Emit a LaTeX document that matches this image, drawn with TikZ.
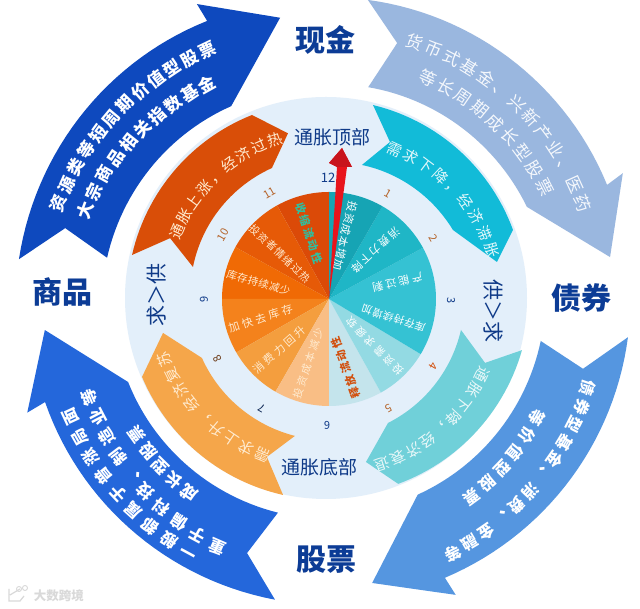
\documentclass[tikz,border=0pt]{standalone}
\usepackage{fontspec}
\newfontfamily\cjk{Noto Sans CJK SC}
\newcount\glyphcnt
\definecolor{navy}{HTML}{0C3C96}
\definecolor{navyb}{HTML}{0F3A88}
\definecolor{discc}{HTML}{E3EFFA}
\definecolor{aone}{HTML}{0E49BE}
\definecolor{atwo}{HTML}{9AB7DF}
\definecolor{athree}{HTML}{5596E0}
\definecolor{afour}{HTML}{2467DB}
\definecolor{bone}{HTML}{D94E08}
\definecolor{btwo}{HTML}{12BBD8}
\definecolor{bthree}{HTML}{70D0D9}
\definecolor{bfour}{HTML}{F5A64A}
\definecolor{handred}{HTML}{E8141C}
\definecolor{handdark}{HTML}{C8141C}
\definecolor{clockb}{HTML}{B5642A}
\definecolor{creamt}{HTML}{FFEBD0}
\definecolor{pa}{HTML}{DB4A08}
\definecolor{pb}{HTML}{E65A07}
\definecolor{pc}{HTML}{F06A05}
\definecolor{pd}{HTML}{F4821C}
\definecolor{pe}{HTML}{F49E3E}
\definecolor{pf}{HTML}{F9BE85}
\definecolor{pg}{HTML}{C4E4EC}
\definecolor{ph}{HTML}{93DAE3}
\definecolor{pi}{HTML}{35C2D3}
\definecolor{pj}{HTML}{1FB6C6}
\definecolor{pk}{HTML}{16A4B4}
\definecolor{shrink}{HTML}{2FBFA0}
\definecolor{release}{HTML}{D2500E}
\tikzset{
  biglabel/.style={font=\cjk\bfseries\fontsize{30}{30}\selectfont,text=navy,inner sep=0pt},
  midlabel/.style={font=\cjk\fontsize{19}{19}\selectfont,text=navyb,inner sep=0pt},
  sidelabel/.style={font=\cjk\fontsize{21}{21}\selectfont,text=navyb,inner sep=0pt},
  clocknum/.style={font=\cjk\fontsize{11}{11}\selectfont,inner sep=0pt},
}
\def\wt{\bfseries}
% arrow band: colour, outer arc a1 r1 a2 r2, inner arc a3 r3 a4 r4, then {head path}{notch}
\newcommand{\band}[9]{\def\bA{#1}\def\bB{#2}\def\bC{#3}\def\bD{#4}\def\bE{#5}\def\bG{#6}\def\bH{#7}\def\bI{#8}\def\bJ{#9}\banddraw}
\newcommand{\banddraw}[2]{%
  \fill[\bA] (\bB:\bC) -- plot[domain=0:1,samples=30,variable=\vv]
    ({(\bC+(\bE-\bC)*\vv)*cos(\bB+(\bD-\bB)*\vv)},{(\bC+(\bE-\bC)*\vv)*sin(\bB+(\bD-\bB)*\vv)})
    -- #1 -- plot[domain=0:1,samples=30,variable=\vv]
    ({(\bH+(\bJ-\bH)*\vv)*cos(\bG+(\bI-\bG)*\vv)},{(\bH+(\bJ-\bH)*\vv)*sin(\bG+(\bI-\bG)*\vv)})
    -- #2 -- cycle;}
% text along an arc: a1 a2 r1 r2 n size colour chars
\newcommand{\arctxt}[8]{%
  \pgfmathsetmacro\hh{#6*0.88}\pgfmathsetmacro\dd{#6*0.12}%
  \foreach \ch [count=\k from 0] in {#8}{%
    \pgfmathsetmacro\ang{#1+(#2-#1)*\k/(#5-1)}%
    \pgfmathsetmacro\rad{#3+(#4-#3)*\k/(#5-1)}%
    \pgfmathsetmacro\rot{\ang-90}%
    \global\advance\glyphcnt by 1
    \node[inner sep=0pt,text height=\hh pt,text depth=\dd pt,text=#7,rotate=\rot,
      font=\cjk\wt\fontsize{#6}{#6}\selectfont] (g\the\glyphcnt) at (\ang:\rad) {\ch};
  }%
}
% text along a straight line, pixel coordinates: x1 y1 x2 y2 n size colour chars
\newcommand{\linetxt}[8]{%
  \pgfmathsetmacro\hh{#6*0.88}\pgfmathsetmacro\dd{#6*0.12}%
  \pgfmathsetmacro\rot{atan2(#2-#4,#3-#1)}%
  \foreach \ch [count=\k from 0] in {#8}{%
    \pgfmathsetmacro\px{#1+(#3-#1)*\k/(#5-1)}%
    \pgfmathsetmacro\py{609-(#2+(#4-#2)*\k/(#5-1))}%
    \global\advance\glyphcnt by 1
    \node[inner sep=0pt,text height=\hh pt,text depth=\dd pt,text=#7,rotate=\rot,
      font=\cjk\wt\fontsize{#6}{#6}\selectfont] (g\the\glyphcnt) at (\px,\py) {\ch};
  }%
}
% pie sector: a1 a2 colour
\newcommand{\sect}[3]{\fill[#3] (0,0) -- (#1:107) arc[start angle=#1,end angle=#2,radius=107] -- cycle;}
\begin{document}
\begin{tikzpicture}[x=1pt,y=1pt]
\useasboundingbox (0,0) rectangle (640,609);
\fill[white] (0,0) rectangle (640,609);

\begin{scope}[shift={(326,311)}]
  \fill[discc] (0,0) circle[radius=201];

  % outer arrows
  \band{aone}{172.8}{309.5}{113.2}{301.5}{116.3}{214}{169.6}{222.6}{(113.7:321) -- (99.3:284)}{(165:270)}
  \band{atwo}{82}{301}{21.9}{303}{24.4}{220.6}{78.7}{215}{(22.8:322) -- (8.2:287)}{(74.4:264.7)}
  \band{athree}{-7.4}{304.5}{-67}{304}{-65}{217}{-11.3}{219}{(-66.4:324) -- (-80.8:288.7)}{(-15.4:266.6)}
  \band{afour}{260.4}{306}{200.3}{299.6}{203}{215}{257.4}{220}{(201:320) -- (186.5:283)}{(252.8:267)}

  % inner arrows
  \band{bone}{167.5}{198.7}{112}{197.4}{112.6}{140.8}{166.9}{136.6}{(103:169)}{(159:167)}
  \band{btwo}{76.3}{198.6}{20}{199}{28.2}{144}{74.9}{137.8}{(11.9:174.7)}{(67.7:168.6)}
  \band{bthree}{-14.9}{202.8}{-68.8}{199.4}{-63.6}{139.5}{-13.3}{138.7}{(-76.3:168.8)}{(-22.2:171.8)}
  \band{bfour}{257.7}{201.6}{203.2}{200.2}{205.8}{137.8}{257.3}{141.4}{(192.1:166.7)}{(249.6:169.6)}

  % outer arrow text
  \arctxt{160.5}{115.6}{284}{275}{12}{17}{white}{资,源,类,等,短,周,期,价,值,型,股,票}
  \arctxt{159.9}{119.2}{256.6}{244}{10}{17}{white}{大,宗,商,品,相,关,指,数,基,金}
  \def\wt{\mdseries}
  \arctxt{70.8}{20.3}{271}{274}{13}{17}{white!90!atwo}{货,币,式,基,金,、,兴,新,产,业,、,医,药}
  \arctxt{65.1}{26.9}{242.5}{245.5}{9}{17}{white!90!atwo}{等,长,周,期,成,长,型,股,票}
  \def\wt{\bfseries}
  \arctxt{-19}{-63.6}{277}{285}{12}{16}{white}{债,券,型,基,金,、,消,费,、,金,融,等}
  \arctxt{-29.6}{-53.7}{242.7}{246.8}{6}{16}{white}{等,价,值,型,股,票}
  \arctxt{241.6}{205}{290}{282}{9}{16.5}{white}{一,般,都,属,于,普,涨,局,面}
  \arctxt{246.4}{202.8}{272}{256}{10}{16.5}{white}{重,于,偏,科,技,、,制,造,业,等}
  \arctxt{235}{215.9}{238}{233.4}{5}{16.5}{white}{成,长,型,股,票}

  % inner arrow text
  \def\wt{\mdseries}
  \arctxt{156}{107.9}{163}{166}{9}{15}{creamt}{通,胀,上,涨,，,经,济,过,热}
  \arctxt{65.2}{16.1}{164}{173}{9}{15}{white!88!btwo}{需,求,下,降,，,经,济,滞,胀}
  \arctxt{-26.3}{-71.4}{174}{176}{9}{15}{white!85!bthree}{通,胀,下,降,，,经,济,衰,退}
  \arctxt{247.8}{200.7}{169.5}{173}{9}{15}{creamt}{需,求,上,升,，,经,济,复,苏}
\end{scope}

% clock pie
\begin{scope}[shift={(329,310)}]
  \sect{90}{119}{pa}
  \sect{119}{151}{pb}
  \sect{151}{180}{pc}
  \sect{180}{210}{pd}
  \sect{210}{240}{pe}
  \sect{240}{270}{pf}
  \sect{270}{299}{pg}
  \sect{299}{329}{ph}
  \sect{-31}{28.6}{pi}
  \sect{28.6}{60}{pj}
  \sect{60}{90}{pk}
\end{scope}

% pie text
\def\wt{\mdseries}
\linetxt{352}{207}{338}{265}{6}{11}{white}{投,资,成,本,增,加}
\linetxt{394}{233}{357}{267}{5}{11}{white}{消,费,力,下,降}
\linetxt{417}{278}{378}{287}{4}{11}{white}{产,能,过,剩}
\linetxt{420}{327}{367}{310}{6}{10.5}{white}{库,存,持,续,增,加}
\linetxt{398}{370}{352}{323}{6}{10.5}{white}{投,资,需,求,疲,软}
\linetxt{298}{393}{318}{333}{6}{10.5}{creamt}{投,资,成,本,减,少}
\linetxt{259}{368}{300}{332}{5}{11}{creamt}{消,费,力,回,升}
\linetxt{234}{327}{287}{310}{5}{11}{creamt}{加,快,去,库,存}
\linetxt{232}{275}{285}{290}{6}{10.5}{creamt}{库,存,持,续,减,少}
\linetxt{255}{230}{305}{277}{7}{10.5}{creamt}{投,资,者,情,绪,过,热}
\def\wt{\bfseries}
\linetxt{355}{393}{337}{343}{5}{11}{release}{释,放,流,动,性}
\linetxt{301}{208}{317}{258}{5}{11}{shrink}{收,缩,流,动,性}

% clock hand
\coordinate (hc) at (329,310);
\coordinate (htip) at (342,461);
\fill[handred] (hc) -- (337,442) -- (329,446) -- (htip) -- (352,442) -- (347,442) -- cycle;
\fill[handdark] (htip) -- (329,446) -- (337,442) -- (347,442) -- (352,442) -- cycle;

% clock numbers
\node[clocknum,text=navyb,font=\cjk\fontsize{13}{13}\selectfont] (n12) at (328,431) {12};
\node[clocknum,text=clockb,rotate=-30] (n1) at (388,415) {1};
\node[clocknum,text=clockb,rotate=-60] (n2) at (433,371) {2};
\node[clocknum,text=navyb,rotate=-90] (n3) at (451,308) {3};
\node[clocknum,text=release,rotate=-120] (n4) at (433,243) {4};
\node[clocknum,text=clockb,rotate=-150] (n5) at (389,201) {5};
\node[clocknum,text=navyb,rotate=180] (n6) at (327,184) {6};
\node[clocknum,text=navyb!60!black,rotate=150] (n7) at (262,201) {7};
\node[clocknum,text=clockb!60!black,rotate=120] (n8) at (218,250) {8};
\node[clocknum,text=navyb,rotate=90] (n9) at (204,310) {9};
\node[clocknum,text=clockb,rotate=60] (n10) at (223,374) {10};
\node[clocknum,text=clockb,rotate=30] (n11) at (270,416) {11};

% labels
\node[biglabel] (cash) at (325,569) {现金};
\node[biglabel] (bond) at (581,311) {债券};
\node[biglabel] (stock) at (326,49) {股票};
\node[biglabel] (comm) at (62,317) {商品};
\node[midlabel] (top) at (332,472) {通胀顶部};
\node[midlabel] (bottom) at (319,142) {通胀底部};
\node[sidelabel,rotate=-90] (supply) at (493,298) {供＞求};
\node[sidelabel,rotate=90] (demand) at (157,314) {求＞供};

% watermark
\node[inner sep=0pt,text=black!15,font=\cjk\bfseries\fontsize{12.5}{12.5}\selectfont] (wm) at (59,13) {大数跨境};
\draw[black!15,line width=1.2pt] (9,20) -- (9,8) -- (20,8) -- (24,13) (10,14) -- (20,20);
\draw[black!15,line width=.9pt] (19,20) circle[radius=2.5] (25,21) circle[radius=2.5];
\end{tikzpicture}
\end{document}
